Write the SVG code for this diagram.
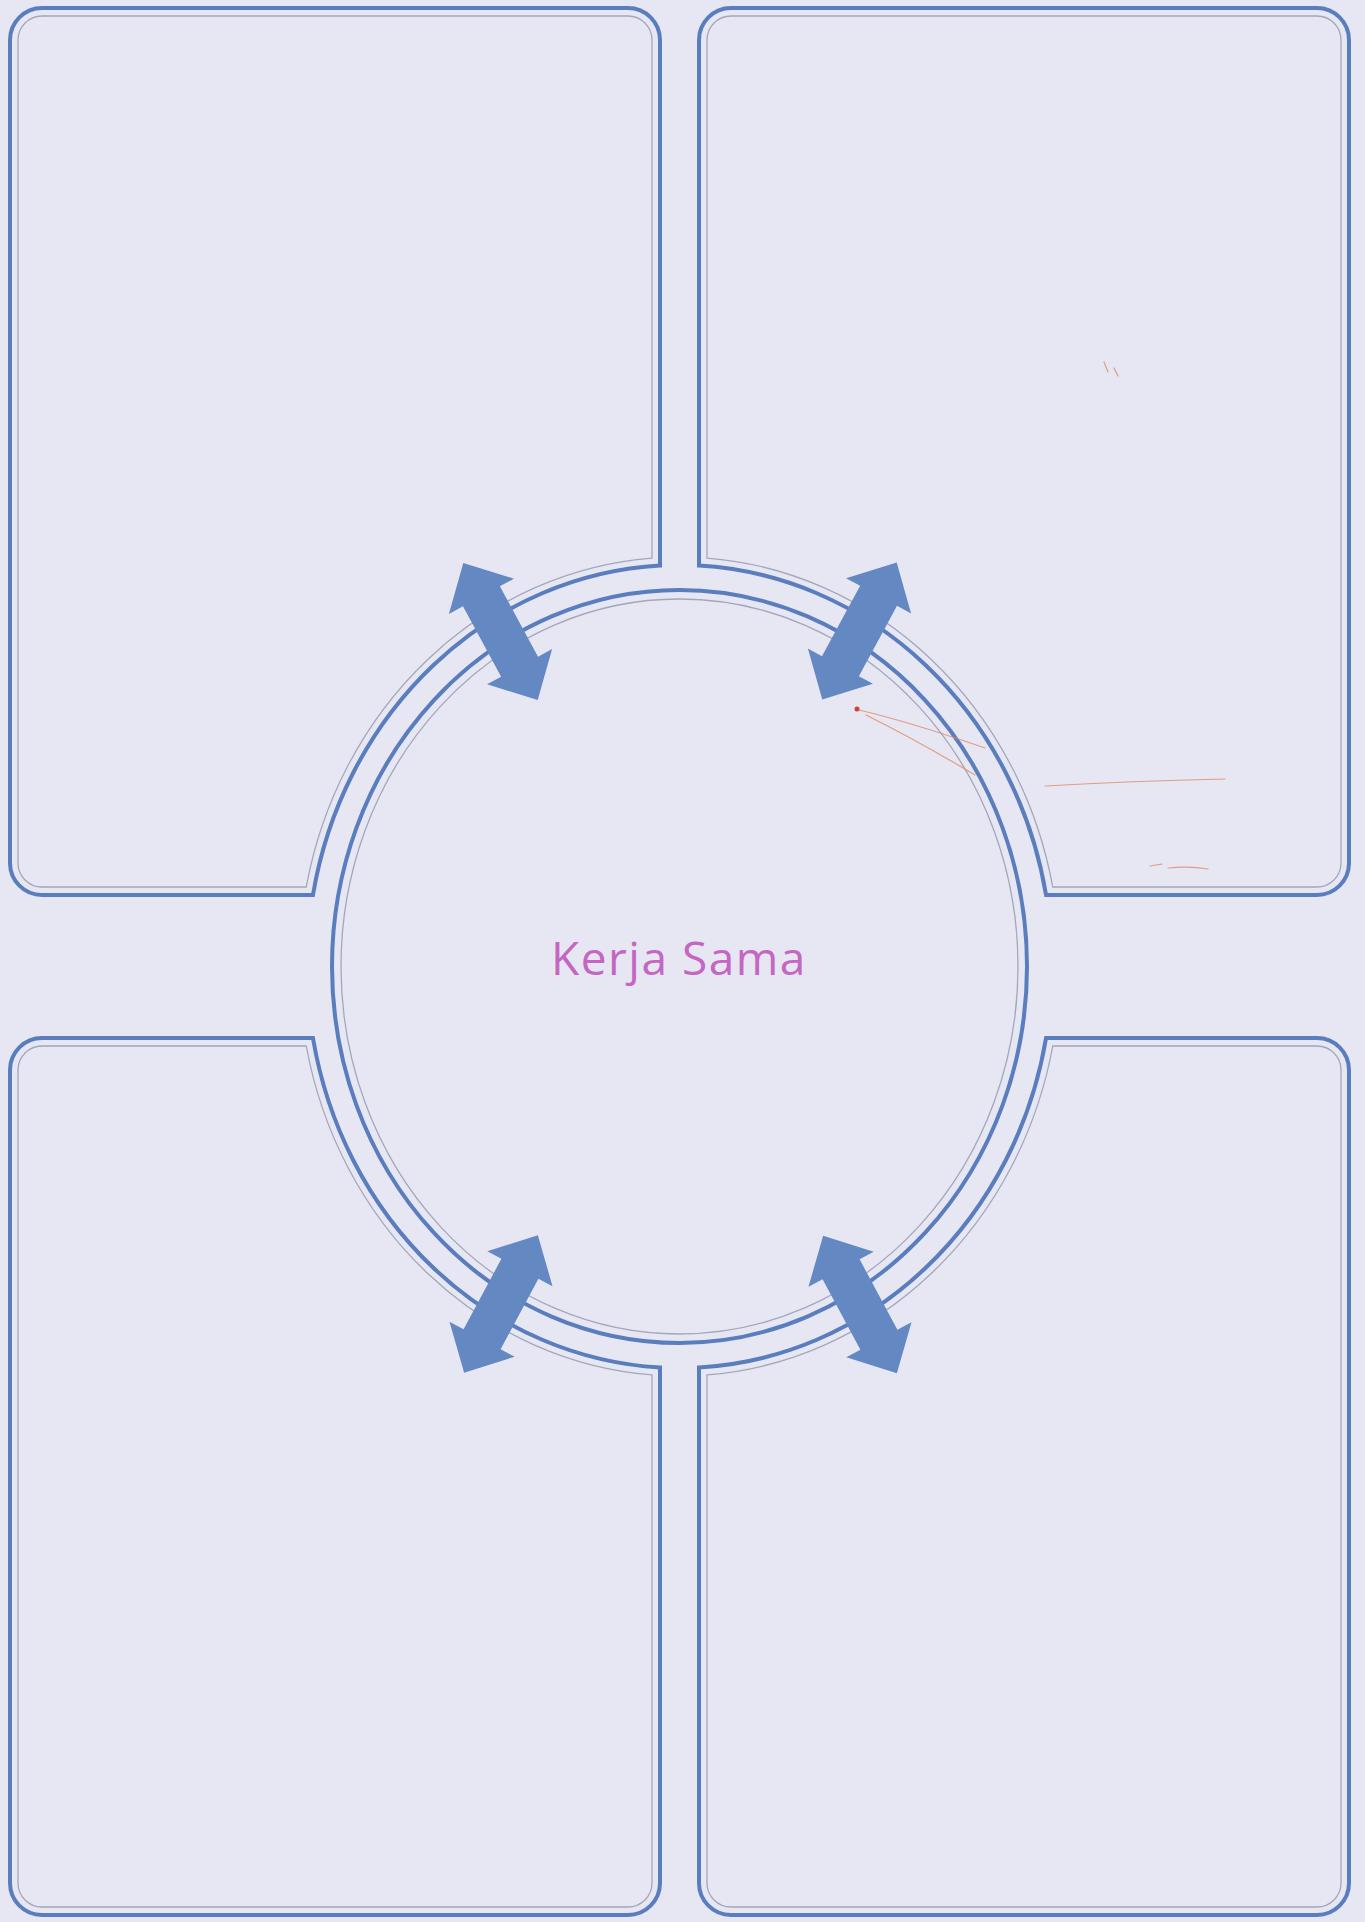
<svg xmlns="http://www.w3.org/2000/svg" width="1365" height="1922" viewBox="0 0 1365 1922">
  <style>
    .thick { fill: none; stroke: #5a7dbd; stroke-width: 4; stroke-linejoin: miter; }
    .thin { fill: none; stroke: #a3a7bb; stroke-width: 1.3; }
    .hl { fill: none; stroke: #f2f3fa; stroke-width: 3; }
    .arrow { fill: #6388c2; }
    .label { font-family: "Open Sans", "Noto Sans", "DejaVu Sans", sans-serif; font-size: 46px; fill: #c466c2; letter-spacing: 1.5px; }
    .mark { fill: none; stroke: #e08a6a; stroke-width: 1.2; stroke-linecap: round; opacity: 0.8; }
  </style>
  <defs>
    <path id="tl-thick" d="M 42 8 H 628 A 32 32 0 0 1 660 40 V 565.55 A 372.5 401.5 0 0 0 312.95 895 H 42 A 32 32 0 0 1 10 863 V 40 A 32 32 0 0 1 42 8 Z"/>
    <path id="tl-thin" d="M 42 16 H 628 A 24 24 0 0 1 652 40 V 558.07 A 380.5 409.5 0 0 0 306.24 887 H 42 A 24 24 0 0 1 18 863 V 40 A 24 24 0 0 1 42 16 Z"/>
    <path id="bl-thick" d="M 42 1038 H 312.95 A 372.5 401.5 0 0 0 660 1367.45 V 1883 A 32 32 0 0 1 628 1915 H 42 A 32 32 0 0 1 10 1883 V 1070 A 32 32 0 0 1 42 1038 Z"/>
    <path id="bl-thin" d="M 42 1046 H 306.24 A 380.5 409.5 0 0 0 652 1374.93 V 1883 A 24 24 0 0 1 628 1907 H 42 A 24 24 0 0 1 18 1883 V 1070 A 24 24 0 0 1 42 1046 Z"/>
    <polygon id="dbl-arrow" points="78,0 40,-37 40,-21 -40,-21 -40,-37 -78,0 -40,37 -40,21 40,21 40,37"/>
  </defs>
  <rect width="1365" height="1922" fill="#e6e7f3"/>

  <g id="panel-top-left">
    <use href="#tl-thin" class="thin"/>
    <use href="#tl-thick" class="thick"/>
  </g>
  <g id="panel-top-right" transform="matrix(-1 0 0 1 1359 0)">
    <use href="#tl-thin" class="thin"/>
    <use href="#tl-thick" class="thick"/>
  </g>
  <g id="panel-bottom-left">
    <use href="#bl-thin" class="thin"/>
    <use href="#bl-thick" class="thick"/>
  </g>
  <g id="panel-bottom-right" transform="matrix(-1 0 0 1 1359 0)">
    <use href="#bl-thin" class="thin"/>
    <use href="#bl-thick" class="thick"/>
  </g>

  <g id="center-circle">
    <ellipse cx="679.5" cy="966.5" rx="338.5" ry="367.5" class="thin"/>
    <ellipse cx="679.5" cy="966.5" rx="347.5" ry="376.5" class="thick"/>
    <text x="679" y="975" text-anchor="middle" class="label">Kerja Sama</text>
  </g>

  <g id="connectors">
    <use href="#dbl-arrow" class="arrow" transform="translate(500.5 631.5) rotate(61.5)"/>
    <use href="#dbl-arrow" class="arrow" transform="translate(859.5 631) rotate(-61.5)"/>
    <use href="#dbl-arrow" class="arrow" transform="translate(501 1304) rotate(-61.8)"/>
    <use href="#dbl-arrow" class="arrow" transform="translate(860 1304.5) rotate(61.8)"/>
  </g>

  <g id="marks">
    <circle cx="857" cy="709" r="2.5" fill="#d0402a"/>
    <path class="mark" d="M 859 710 Q 910 722 985 748"/>
    <path class="mark" d="M 866 715 Q 920 742 975 775" opacity="0.5"/>
    <path class="mark" d="M 1045 786 Q 1130 781 1225 779" opacity="0.45"/>
    <path class="mark" d="M 1150 866 L 1162 864 M 1168 868 Q 1190 866 1208 869" />
    <path class="mark" d="M 1104 362 L 1108 372 M 1114 368 L 1118 376" opacity="0.6"/>
  </g>
</svg>
